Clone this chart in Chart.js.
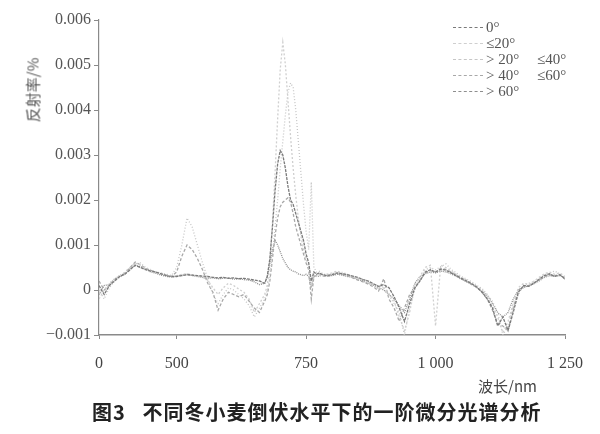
<!DOCTYPE html>
<html>
<head>
<meta charset="utf-8">
<script src="https://cdn.jsdelivr.net/npm/chart.js@4.4.1/dist/chart.umd.min.js"></script>
<style>
    html, body { margin: 0; padding: 0; background: #fff; }
    #wrap   { position: relative; width: 600px; height: 434px; overflow: hidden; }
    #chart  { position: absolute; left: 0; top: 0; }
    .serif  { font-family: "Liberation Serif", "DejaVu Serif", serif; color: #555; }
    #yTitle {
        position: absolute; left: 32px; top: 90px;
        transform: translate(-50%, -50%) rotate(-90deg);
        font: 15px "Noto Sans CJK SC", sans-serif; color: #555; white-space: nowrap;
    }
    #xTitle {
        position: absolute; left: 478px; top: 375px;
        font: 15px "Noto Sans CJK SC", sans-serif; color: #444; white-space: nowrap;
    }
    #caption {
        position: absolute; left: 92px; top: 397px;
        font: bold 20px "Noto Sans CJK SC", sans-serif; letter-spacing: 1px;
        color: #222; white-space: nowrap;
    }
    #legend { position: absolute; left: 453px; top: 19px; font-size: 15px; }
    #legend div { position: relative; height: 16px; line-height: 16px; white-space: nowrap; }
    #legend .sample {
        position: absolute; left: 0; top: 8px; width: 30px; height: 0;
        border-top-width: 1px; border-top-style: dashed;
    }
    #legend .lbl  { position: absolute; left: 33px; top: 0; }
    #legend .lbl2 { position: absolute; left: 84px; top: 0; }
</style>
</head>
<body>
<div id="wrap">
    <canvas id="chart" width="600" height="434"></canvas>
    <div id="yTitle">反射率/%</div>
    <div id="xTitle">波长/nm</div>
    <div id="legend" class="serif"></div>
    <div id="caption">图3&nbsp;&nbsp;&nbsp;不同冬小麦倒伏水平下的一阶微分光谱分析</div>
</div>

<script>
// ─── Data (first-derivative reflectance, values in units of 1e-4) ────────────
const wavelengths = [
    350, 360, 370, 380, 390, 400, 410, 420, 430, 440, 450, 460, 470, 480, 490,
    500, 510, 520, 530, 540, 550, 560, 570, 580, 590, 600, 610, 620, 630, 640,
    650, 660, 670,
    675, 680, 685, 690, 695, 700, 705, 710, 715, 720, 725, 730, 735, 740, 745,
    750, 755, 760, 765, 770, 775, 780,
    790, 800, 810, 820, 830, 840, 850, 860, 870, 880, 890, 900, 910, 920, 930,
    940, 950, 960, 970, 980, 990, 1000, 1010, 1020, 1030, 1040, 1050, 1060, 1070,
    1080, 1090, 1100, 1110, 1120, 1130, 1140, 1150, 1160, 1170, 1180, 1190, 1200,
    1210, 1220, 1230, 1240, 1250
];

const seriesNames = ['0°', '≤20°', '> 20°  ≤40°', '> 40°  ≤60°', '> 60°'];

const lodging0 = [
    1, -1, 1, 2, 3, 3.5, 4.5, 5.5, 5, 4.5, 4.2, 4, 3.6, 3.2, 3,
    3, 3.2, 3.4, 3.3, 3.2, 3.1, 3, 2.8, 2.7, 2.8, 2.6, 2.7, 2.5, 2.6, 2.4,
    2.2, 2, 1.5,
    3, 7, 14, 22, 28, 31, 30, 27, 23, 20, 19, 17, 15, 13, 11,
    8, 6, 2, 4, 3.5, 3.8, 3.5,
    3.2, 3.4, 3.8, 3.6, 3.4, 3.1, 2.8, 2.3, 2.0, 1.4, 0.8, 1.2, 0.5, -1.5, -4,
    -7, -3, 0.5, 2, 4, 4.5, 4, 4.6, 4.4, 3.8, 3.2, 2.6, 2, 1.4,
    0.6, -0.5, -2, -4, -8, -6, -9, -5, -0.5, 1, 0.8, 1.5, 2.4,
    3.2, 3.6, 3, 3.4, 2.5
];

const lodging20 = [
    -2, 0, 1.5, 2.5, 3, 4, 5, 6, 5.5, 4.6, 4.2, 3.8, 3.5, 3.1, 2.8,
    3.2, 3.5, 3.6, 3.4, 3.1, 2.9, 2.2, 0.5, -1, 0.5, 1.5, 1, 0.2, -0.5, -2,
    -5, -3, -1,
    1, 6, 15, 26, 38, 49, 55, 50, 42, 34, 27, 21, 16, 12, 9,
    7, 5, 1, 3.5, 3, 3.4, 3.2,
    3.5, 3.8, 4.2, 3.7, 3.3, 3.0, 2.6, 2.4, 1.8, 1.2, 1.0, 0.4, -0.8, -2.5, -6,
    -9, -5, 1, 3, 5, 5.5, -8, 5.5, 5, 4.2, 3.5, 2.8, 2.2, 1.5,
    0.8, 0, -1.5, -3.5, -6, -9.5, -7, -3, 0.5, 1.5, 1.2, 2, 2.8,
    3.6, 4, 3.5, 3.8, 3
];

const lodging40 = [
    0, -2, 0.5, 2, 2.8, 3.5, 4.5, 5.8, 6, 5, 4.5, 4, 3.8, 3.5, 3.2,
    5, 10, 16, 14, 10, 6, 2.5, -1, -3, -1, 0.5, 0, -1, -2, -3.5,
    -6, -4, -2,
    0, 3, 8, 14, 20, 27, 33, 39, 44, 46, 45, 40, 33, 26, 19,
    13, 9, 24, 5, 4, 4.2, 3.8,
    3.3, 3.6, 4, 3.9, 3.5, 2.9, 2.5, 2.1, 1.6, 1.0, 0.2, 0.8, -1.2, -3, -5,
    -10, -4, 0, 2.5, 4.5, 5, 4.5, 5.2, 5.8, 4.6, 3.8, 3, 2.4, 1.8,
    1, 0.3, -1, -2.5, -5, -10, -8, -4, -1, 1, 1.5, 1.8, 2.5,
    3.3, 3.8, 4.2, 3.6, 2.8
];

const lodging60 = [
    2, 0, 1, 2.2, 3, 3.8, 5, 6.2, 5.6, 4.8, 4.4, 3.9, 3.6, 3.3, 3,
    4, 7.5, 10, 9, 7, 4.5, 1.5, -0.5, -4.5, -2, -0.5, -1, -1.5, -1, -2.5,
    -4, -5, -2.5,
    -1, 2, 7, 12, 16, 18.5, 19.5, 20, 20.5, 19.5, 17, 14, 12, 10, 8,
    6, 4.5, -2, 3, 3.2, 3.6, 3.2,
    3, 3.4, 3.6, 3.4, 3.2, 2.7, 2.2, 1.8, 1.3, 0.7, -0.2, 2.5, -2, -4, -7,
    -4, -1, 0.5, 2.2, 3.8, 4.3, 4, 4.8, 4.6, 4, 3.3, 2.5, 1.9, 1.2,
    0.6, -0.6, -2, -4.5, -7.5, -8, -9, -4, 0, 0.8, 1, 1.6, 2.2,
    3, 3.4, 3.2, 3.4, 2.4
];

const lodgingOver60 = [
    -1, 1, 1.2, 2.4, 3.2, 3.6, 4.8, 5.4, 5.2, 4.7, 4, 3.7, 3.3, 3, 2.9,
    3.1, 3.3, 3.5, 3.2, 3, 2.8, 2.6, 2.7, 2.5, 2.6, 2.7, 2.4, 2.5, 2.3, 2.2,
    1.8, 1.2, 1.5,
    3, 6, 9, 11, 10, 8.5, 7, 6, 5, 4.5, 4.2, 4, 3.6, 3.4, 3.2,
    3.5, 3, 0.5, 3, 3.3, 3, 3.4,
    3.1, 3.2, 3.5, 3.3, 3, 2.8, 2.3, 2, 1.5, 1.1, 0.5, 0, -1, -2, -3.5,
    -5, -2, 1.5, 3, 3.6, 4, 3.8, 4.2, 4, 3.6, 3, 2.4, 1.8, 1.3,
    0.5, -0.3, -1.2, -3, -5, -6, -5, -2, 0, 0.5, 1, 1.4, 2, 2.8,
    3.2, 3, 3.2, 2.6
];

const xTickValues = [350, 500, 750, 1000, 1250];
const xTickLabels = ['0', '500', '750', '1 000', '1 250'];

// ─── Styles ──────────────────────────────────────────────────────────────────
const lineColors = ['#7a7a7a', '#cfcfcf', '#c6c6c6', '#a8a8a8', '#8e8e8e'];
const lineDashes = [[3, 1], [2, 2], [1, 2], [3, 2], [1, 1]];
const allSeries  = [lodging0, lodging20, lodging40, lodging60, lodgingOver60];

const AXIS_GREY = '#8a8a8a';
const TICK_FONT = { family: '"Liberation Serif", "DejaVu Serif", serif', size: 16 };

// ─── Build chart ─────────────────────────────────────────────────────────────
const datasets = allSeries.map((vals, i) => ({
    label: seriesNames[i],
    data: vals.map((v, j) => ({ x: wavelengths[j], y: v * 1e-4 })),
    borderColor: lineColors[i],
    borderDash: lineDashes[i],
    borderWidth: 1.3,
    pointRadius: 0,
    tension: 0,
    fill: false
}));

new Chart(document.getElementById('chart'), {
    type: 'line',
    data: { datasets },
    options: {
        responsive: false,
        animation: false,
        layout: { padding: { top: 20, right: 35, left: 0, bottom: 0 } },
        plugins: {
            legend:  { display: false },
            tooltip: { enabled: false }
        },
        scales: {
            x: {
                type: 'linear',
                min: 350,
                max: 1250,
                afterBuildTicks: scale => {
                    scale.ticks = xTickValues.map(v => ({ value: v }));
                },
                afterFit: scale => { scale.height = 99; },
                ticks: {
                    autoSkip: false,
                    maxRotation: 0,
                    padding: 15,
                    color: '#444',
                    font: TICK_FONT,
                    callback: value => {
                        const k = xTickValues.indexOf(value);
                        return k >= 0 ? xTickLabels[k] : '';
                    }
                },
                grid:   { drawOnChartArea: false, tickLength: 4, color: AXIS_GREY },
                border: { color: AXIS_GREY, width: 1.5 }
            },
            y: {
                min: -0.001,
                max: 0.006,
                afterFit: scale => { scale.width = 99; },
                ticks: {
                    stepSize: 0.001,
                    padding: 3,
                    color: '#555',
                    font: TICK_FONT,
                    callback: value => {
                        if (Math.abs(value) < 1e-9) return '0';
                        const s = Math.abs(value).toFixed(3);
                        return value < 0 ? '\u22120' + s.slice(1) : s;
                    }
                },
                grid:   { drawOnChartArea: false, tickLength: 5, color: AXIS_GREY },
                border: { color: AXIS_GREY, width: 1.2 }
            }
        }
    }
});

// ─── Legend (top right, one entry per line) ──────────────────────────────────
const legendEl = document.getElementById('legend');
seriesNames.forEach((name, i) => {
    const row    = document.createElement('div');
    const sample = document.createElement('span');
    sample.className = 'sample';
    sample.style.borderTopColor = lineColors[i];
    row.appendChild(sample);

    const parts = name.split(/\s{2,}/);
    const lbl = document.createElement('span');
    lbl.className = 'lbl';
    lbl.textContent = parts[0];
    row.appendChild(lbl);
    if (parts[1]) {
        const lbl2 = document.createElement('span');
        lbl2.className = 'lbl2';
        lbl2.textContent = parts[1];
        row.appendChild(lbl2);
    }
    legendEl.appendChild(row);
});
</script>
</body>
</html>
